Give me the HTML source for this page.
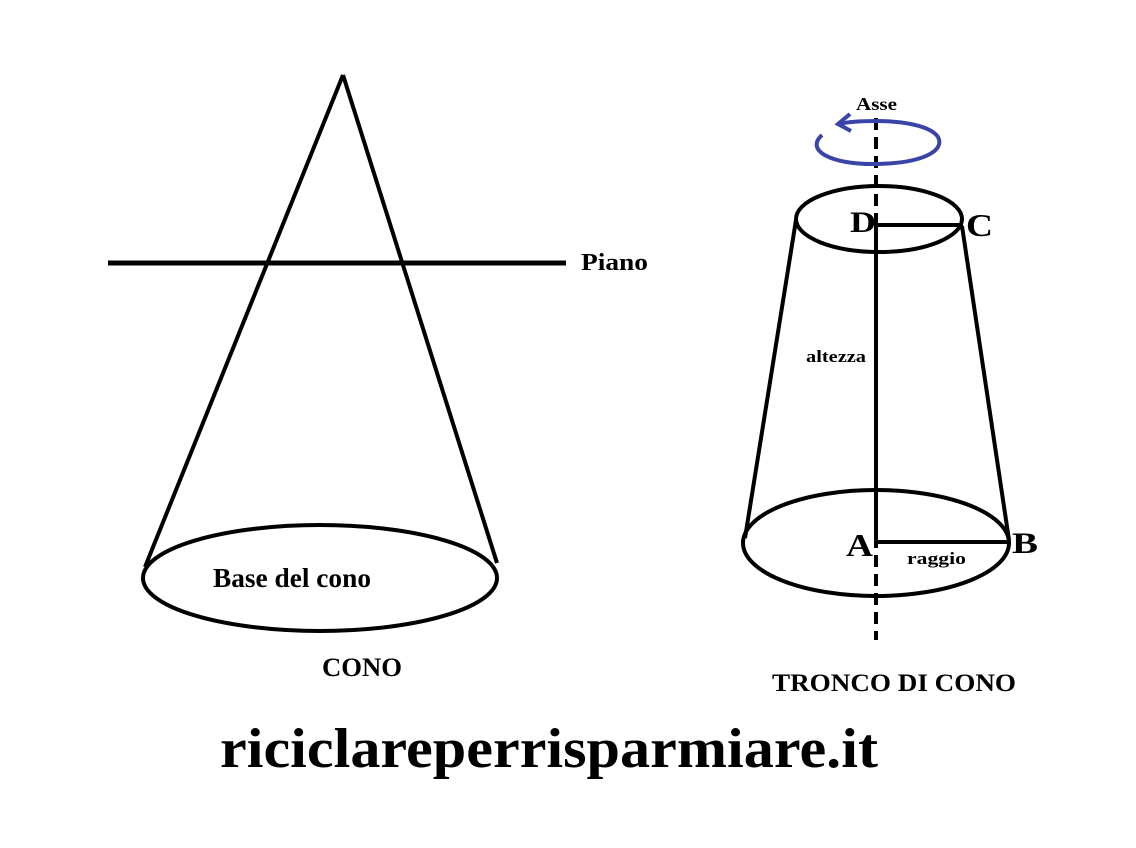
<!DOCTYPE html>
<html><head><meta charset="utf-8"><style>
html,body{margin:0;padding:0;background:#fff;}
svg{display:block;}
text{font-family:"Liberation Serif",serif;font-weight:bold;fill:#000;}
</style></head><body>
<svg width="1136" height="848" viewBox="0 0 1136 848" xmlns="http://www.w3.org/2000/svg">
<rect width="1136" height="848" fill="#fff"/>
<g stroke="#000" fill="none" stroke-width="4">
<line x1="343" y1="75" x2="145" y2="567"/>
<line x1="343" y1="75" x2="497" y2="563"/>
<ellipse cx="320" cy="578" rx="177" ry="53"/>
<line x1="108" y1="263" x2="566" y2="263" stroke-width="5"/>
<ellipse cx="879" cy="219" rx="83" ry="33"/>
<ellipse cx="876" cy="543" rx="133" ry="53"/>
<line x1="796" y1="220" x2="745" y2="538"/>
<line x1="962" y1="226" x2="1009" y2="540"/>
<line x1="876" y1="118" x2="876" y2="640" stroke-dasharray="12,7"/>
<line x1="876" y1="219" x2="876" y2="543"/>
<line x1="876" y1="225" x2="963" y2="225"/>
<line x1="876" y1="542" x2="1009" y2="542"/>
</g>
<g stroke="#3a44a8" fill="none" stroke-width="4">
<path d="M822 135 C805 150 830 165 877 164 C925 163 945 150 938 137 C930 125 900 121 876 121 C860 121 848 122 838 124"/>
<path d="M850 114 L838 124 L851 131"/>
</g>
<text x="856" y="110" font-size="18" textLength="41" lengthAdjust="spacingAndGlyphs">Asse</text>
<text x="850" y="232" font-size="30" textLength="26" lengthAdjust="spacingAndGlyphs">D</text>
<text x="966" y="236" font-size="32" textLength="27" lengthAdjust="spacingAndGlyphs">C</text>
<text x="846" y="556" font-size="32" textLength="27" lengthAdjust="spacingAndGlyphs">A</text>
<text x="1012" y="553" font-size="30" textLength="26" lengthAdjust="spacingAndGlyphs">B</text>
<text x="806" y="362" font-size="17" textLength="60" lengthAdjust="spacingAndGlyphs">altezza</text>
<text x="907" y="564" font-size="17" textLength="59" lengthAdjust="spacingAndGlyphs">raggio</text>
<text x="581" y="270" font-size="24" textLength="67" lengthAdjust="spacingAndGlyphs">Piano</text>
<text x="213" y="587" font-size="27" textLength="158" lengthAdjust="spacingAndGlyphs">Base del cono</text>
<text x="322" y="676" font-size="26" textLength="80" lengthAdjust="spacingAndGlyphs">CONO</text>
<text x="772" y="691" font-size="25" textLength="244" lengthAdjust="spacingAndGlyphs">TRONCO DI CONO</text>
<text x="220" y="767" font-size="56" textLength="658" lengthAdjust="spacingAndGlyphs">riciclareperrisparmiare.it</text>
</svg>
</body></html>
